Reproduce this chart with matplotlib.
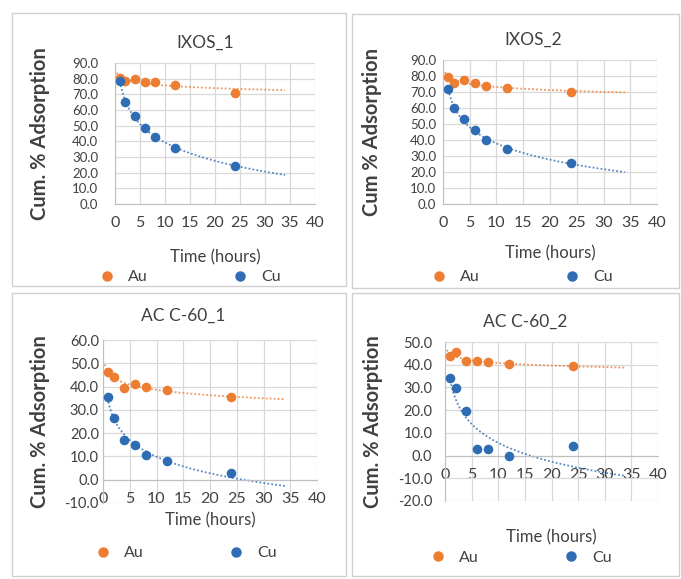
import matplotlib
matplotlib.use("Agg")
import matplotlib.pyplot as plt
import numpy as np
from matplotlib.lines import Line2D
from matplotlib.patches import Rectangle

plt.rcParams['font.family'] = ['Lato', 'DejaVu Sans']

# data
times = [1, 2, 4, 6, 8, 12, 24]

au_ixos1 = [80.3, 78.2, 79.5, 77.8, 77.8, 75.7, 71.1]
cu_ixos1 = [78.7, 64.9, 56.3, 48.5, 42.7, 35.6, 24.5]

au_ixos2 = [79.6, 75.8, 77.5, 75.4, 73.8, 72.7, 69.8]
cu_ixos2 = [71.7, 59.8, 53.1, 46.3, 40.0, 34.2, 25.4]

au_ac1 = [46.4, 44.3, 39.3, 41.0, 39.7, 38.6, 35.4]
cu_ac1 = [35.4, 26.3, 16.9, 14.9, 10.7, 8.1, 2.9]

au_ac2 = [43.8, 45.5, 41.5, 41.5, 41.0, 40.3, 39.6]
cu_ac2 = [34.1, 29.7, 19.7, 2.8, 2.8, 0.0, 4.0]

titles = ["IXOS_1", "IXOS_2", "AC C-60_1", "AC C-60_2"]
ylabels = ["Cum. % Adsorption", "Cum % Adsorption", "Cum. % Adsorption", "Cum. % Adsorption"]
xticks = [0, 5, 10, 15, 20, 25, 30, 35, 40]
yticks_top = [0, 10, 20, 30, 40, 50, 60, 70, 80, 90]
yticks_ac1 = [-10, 0, 10, 20, 30, 40, 50, 60]
yticks_ac2 = [-20, -10, 0, 10, 20, 30, 40, 50]

ORANGE = '#ED7D31'
BLUE = '#2E6DB4'
GRID = '#D9D9D9'
TXT = '#404040'

W, H = 681, 579
fig = plt.figure(figsize=(W / 100, H / 100), dpi=100)


def rect(x0, x1, ytop, ybot):
    return [x0 / W, 1 - ybot / H, (x1 - x0) / W, (ybot - ytop) / H]


# panel frames
for (x0, y0, x1, y1) in [(12, 13, 346, 286), (352, 14, 679, 288),
                         (12, 293, 346, 576), (352, 293, 679, 576)]:
    fig.add_artist(Rectangle((x0 / W, 1 - y1 / H), (x1 - x0) / W, (y1 - y0) / H,
                             transform=fig.transFigure, fill=False,
                             edgecolor='#D0D0D0', lw=1))

panels = [
    # (au, cu, yticks, axes rect, ypad, ysize, title xy, ylabel x, xlabel y, legend xy)
    (au_ixos1, cu_ixos1, yticks_top, rect(115, 315, 63, 204), 12, 9.5, (205, 43), 40, 257, (190, 277)),
    (au_ixos2, cu_ixos2, yticks_top, rect(443, 657, 60, 204), 5, 9.5, (533, 40), 372, 253, (522, 277)),
    (au_ac1, cu_ac1, yticks_ac1, rect(103, 317, 340, 503), 3, 10.5, (183, 316), 40, 520, (186, 553)),
    (au_ac2, cu_ac2, yticks_ac2, rect(445, 658, 342, 501), 9, 10.5, (525, 322), 373, 537, (521, 558)),
]

t = np.array(times, dtype=float)

for i, (au, cu, yt, r, ypad, ysize, txy, ylx, xly, lxy) in enumerate(panels):
    ax = fig.add_axes(r)
    for vals, col, start in [(au, ORANGE, 0.35), (cu, BLUE, t[0])]:
        # logarithmic trendline, as in the spreadsheet
        b, a = np.polyfit(np.log(t), np.array(vals), 1)
        xs = np.linspace(start, 34, 200)
        ax.plot(xs, a + b * np.log(xs), linestyle=(0, (1, 1.2)), color=col,
                lw=1.3, alpha=0.8, zorder=2)
        ax.scatter(t, vals, s=48, color=col, zorder=3, linewidths=0)

    ax.set_xlim(0, 40)
    ax.set_ylim(yt[0], yt[-1])
    ax.set_xticks(xticks)
    ax.set_yticks(yt)
    ax.set_yticklabels([f"{v:.1f}" for v in yt])
    ax.grid(True, color=GRID, lw=0.9)
    ax.set_axisbelow(True)
    for s in ['top', 'right']:
        ax.spines[s].set_visible(False)
    ax.spines['left'].set_color('#BFBFBF')
    ax.spines['bottom'].set_color('#BFBFBF')
    ax.spines['bottom'].set_position(('data', 0))
    ax.tick_params(axis='both', length=0, colors=TXT)
    ax.tick_params(axis='x', labelsize=11.5, pad=9)
    ax.tick_params(axis='y', labelsize=ysize, pad=ypad)

    fig.text(txy[0] / W, 1 - txy[1] / H, titles[i], ha='center', va='center',
             fontsize=12.5, color=TXT)
    fig.text(ylx / W, r[1] + r[3] / 2, ylabels[i], rotation=90, ha='center',
             va='center', fontsize=14.5, fontweight='bold', color=TXT)
    fig.text(r[0] + r[2] / 2, 1 - xly / H, "Time (hours)", ha='center',
             va='center', fontsize=12, color=TXT)

    handles = [Line2D([], [], marker='o', ls='', color=ORANGE, markersize=6.5),
               Line2D([], [], marker='o', ls='', color=BLUE, markersize=6.5)]
    fig.legend(handles, ['Au', 'Cu'], loc='center',
               bbox_to_anchor=(lxy[0] / W, 1 - lxy[1] / H), ncol=2,
               frameon=False, fontsize=11.5, handletextpad=0.8,
               columnspacing=5.3, handlelength=1, labelcolor=TXT)

fig.savefig("out.png", dpi=100)
